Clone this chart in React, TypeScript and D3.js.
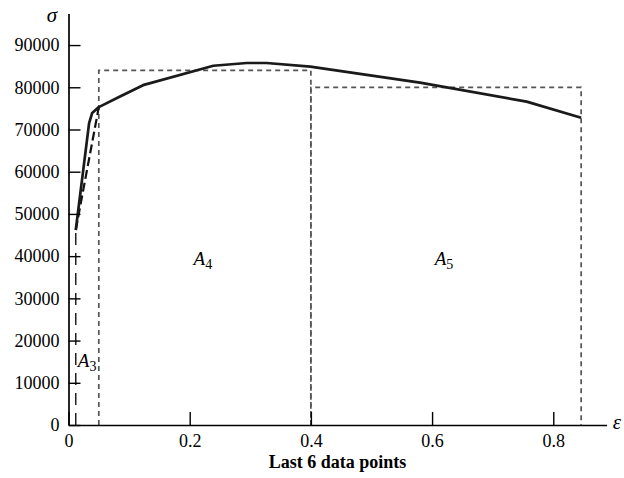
import React, { useEffect, useRef } from "react";
import * as d3 from "d3";

// stress-strain curve
const strain = [0.012, 0.034, 0.039, 0.05, 0.085, 0.123, 0.239, 0.294, 0.327, 0.399, 0.58, 0.756, 0.846];
const stress = [46200, 71500, 73900, 75300, 77800, 80500, 85100, 85750, 85750, 84900, 81100, 76600, 72800];

// rectangle areas A4 and A5
const regionEdges = [0.05, 0.4, 0.846];
const regionTops = [84000, 80000];
const regionNames = ["4", "5"];

const xTicks = [0, 0.2, 0.4, 0.6, 0.8];
const yTicks = [0, 10000, 20000, 30000, 40000, 50000, 60000, 70000, 80000, 90000];

const xLabel = "Last 6 data points";

const width = 624;
const height = 478;
const FONT = "'Liberation Serif', 'Times New Roman', serif";

const App = () => {
  const svgRef = useRef<SVGSVGElement | null>(null);

  useEffect(() => {
    const svg = d3.select(svgRef.current);
    svg.selectAll("*").remove();

    const x = d3.scaleLinear().domain([0, 0.888]).range([68.5, 606.6]);
    const y = d3.scaleLinear().domain([0, 97500]).range([425, 13.4]);

    const root = svg.append("g").attr("font-family", FONT);

    // dashed rectangles
    const grey = "#555";
    regionTops.forEach((top, i) => {
      const x0 = regionEdges[i];
      const x1 = regionEdges[i + 1];
      root.append("path")
        .attr("d", `M${x(x0)},${y(0)}V${y(top)}H${x(x1)}V${y(0)}`)
        .attr("fill", "none")
        .attr("stroke", grey)
        .attr("stroke-width", 1.7)
        .attr("stroke-dasharray", "5,4");
    });

    // A3 boundary (long dashes) and elastic line
    root.append("line")
      .attr("x1", x(strain[0])).attr("x2", x(strain[0]))
      .attr("y1", y(0)).attr("y2", y(stress[0]))
      .attr("stroke", "#111")
      .attr("stroke-width", 1.4)
      .attr("stroke-dasharray", "12,8");

    root.append("line")
      .attr("x1", x(strain[0])).attr("y1", y(stress[0]))
      .attr("x2", x(strain[3])).attr("y2", y(stress[3]))
      .attr("stroke", "#111")
      .attr("stroke-width", 2.2)
      .attr("stroke-dasharray", "9,4");

    // the curve
    const pts = strain.map((e, i) => [e, stress[i]] as [number, number]);
    root.append("path")
      .attr("d", d3.line().x((d) => x(d[0])).y((d) => y(d[1]))(pts))
      .attr("fill", "none")
      .attr("stroke", "#1a1a1a")
      .attr("stroke-width", 2.7)
      .attr("stroke-linejoin", "round");

    // axes
    const yAxis = root.append("g")
      .attr("transform", `translate(${x(0)},0)`)
      .call(d3.axisLeft(y).tickValues(yTicks).tickSize(-12).tickSizeOuter(0).tickPadding(9).tickFormat(d3.format("d")));
    const xAxis = root.append("g")
      .attr("transform", `translate(0,${y(0)})`)
      .call(d3.axisBottom(x).tickValues(xTicks).tickSize(-13).tickSizeOuter(0).tickPadding(9)
        .tickFormat((d) => (+d === 0 ? "0" : String(d))));

    [yAxis, xAxis].forEach((ax) => {
      ax.attr("font-family", FONT);
      ax.select(".domain").attr("stroke", "#000").attr("stroke-width", 1.7);
      ax.selectAll(".tick line").attr("stroke", "#000").attr("stroke-width", 1.4);
      ax.selectAll("text").attr("font-family", FONT).attr("font-size", 18).attr("fill", "#000");
    });

    // axis symbols
    root.append("text").attr("x", 52).attr("y", 22).attr("text-anchor", "middle")
      .attr("font-style", "italic").attr("font-size", 21).text("σ");
    root.append("text").attr("x", 617).attr("y", 428.5).attr("text-anchor", "middle")
      .attr("font-style", "italic").attr("font-size", 21).text("ε");

    root.append("text")
      .attr("x", (x.range()[0] + x.range()[1]) / 2)
      .attr("y", 468)
      .attr("text-anchor", "middle")
      .attr("font-weight", "bold")
      .attr("font-size", 18)
      .text(xLabel);

    // area labels
    const areaLabel = (px: number, py: number, sub: string, anchor: string) => {
      const t = root.append("text").attr("x", px).attr("y", py).attr("text-anchor", anchor).attr("font-size", 19);
      t.append("tspan").attr("font-style", "italic").text("A");
      t.append("tspan").attr("font-size", 14).attr("dy", 4).text(sub);
    };
    regionNames.forEach((n, i) => {
      areaLabel((x(regionEdges[i]) + x(regionEdges[i + 1])) / 2 - 2, y(38000), n, "middle");
    });
    areaLabel(x(strain[0]) + 2, y(13800), "3", "start");
  }, []);

  return (
    <svg
      ref={svgRef}
      width={width}
      height={height}
      style={{ position: "absolute", left: 0, top: 0, background: "#fff" }}
    />
  );
};

export default App;
